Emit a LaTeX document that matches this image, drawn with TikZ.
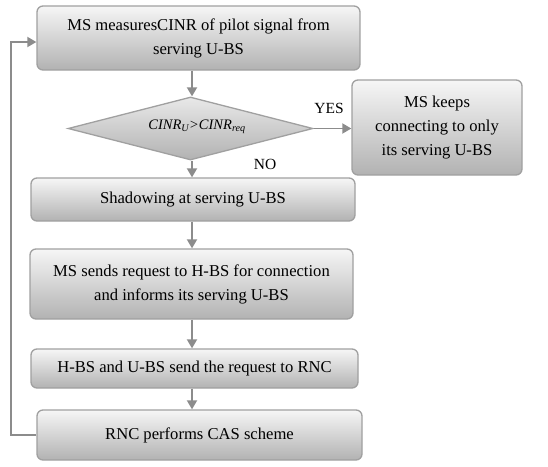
\documentclass[tikz,border=0pt]{standalone}
\usepackage{fontspec}
\setmainfont{Liberation Serif}
\usetikzlibrary{arrows.meta,shapes.geometric}
\definecolor{boxtop}{HTML}{F6F6F6}
\definecolor{boxbot}{HTML}{B2B2B2}
\definecolor{boxline}{HTML}{A0A0A0}
\definecolor{arrgray}{HTML}{8C8C8C}
\tikzset{
  stepbox/.style={rectangle, rounded corners=6pt, draw=boxline, line width=1.3pt,
    top color=boxtop, bottom color=boxbot, align=center, inner sep=0pt,
    font=\fontsize{16.6}{24}\selectfont},
  decbox/.style={diamond, draw=boxline, line width=1.3pt, top color=boxtop!80!boxbot,
    bottom color=boxbot, inner sep=0pt},
  lbl/.style={font=\fontsize{15.5}{18}\selectfont, inner sep=0pt},
  arr/.style={draw=arrgray, line width=1.8pt, -{Triangle[width=10pt,length=9pt]}}
}
\begin{document}
\begin{tikzpicture}[x=1pt,y=-1pt]
\useasboundingbox (0,0) rectangle (548,466);
\node[stepbox, minimum width=323pt, minimum height=64pt] (b1) at (198.5,38)
  {MS measuresCINR of pilot signal from\\serving U-BS};
\node[decbox, minimum width=245pt, minimum height=63pt] (d) at (190.5,128.5) {};
\node[font=\fontsize{14.5}{17}\selectfont\itshape, inner sep=0pt] (dt) at (197,127)
  {CINR\textsubscript{U}>CINR\textsubscript{req}};
\node[stepbox, minimum width=170pt, minimum height=95pt] (r) at (437,127.5)
  {MS keeps\\connecting to only\\its serving U-BS};
\node[stepbox, minimum width=324pt, minimum height=43pt] (b3) at (193,199.5)
  {Shadowing at serving U-BS};
\node[stepbox, minimum width=323pt, minimum height=70pt] (b4) at (191.5,284)
  {MS sends request to H-BS for connection\\and informs its serving U-BS};
\node[stepbox, minimum width=327pt, minimum height=39pt] (b5) at (194.5,368.5)
  {H-BS and U-BS send the request to RNC};
\node[stepbox, minimum width=325pt, minimum height=50pt] (b6) at (199.5,435)
  {RNC performs CAS scheme};
\node[lbl] (yes) at (329,108) {YES};
\node[lbl] (no) at (265,164) {NO};
\coordinate (fb) at (11,0);
\coordinate (top) at (192,0);
\draw[arr] (b1.south -| top) -- (d.north -| top);
\draw[arr] (d.east) -- (r.west |- d.east);
\draw[arr] (d.south -| top) -- (b3.north -| top);
\draw[arr] (b3.south -| top) -- (b4.north -| top);
\draw[arr] (b4.south -| top) -- (b5.north -| top);
\draw[arr] (b5.south -| top) -- (b6.north -| top);
\draw[arr] (b6.west) -- (b6.west -| fb) |- ([yshift=-4pt]b1.west);
\end{tikzpicture}
\end{document}
